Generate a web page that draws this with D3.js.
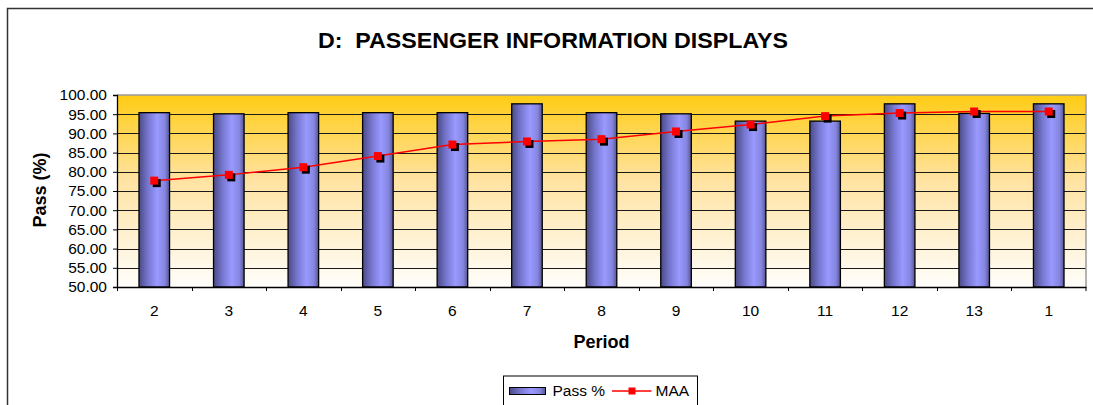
<!DOCTYPE html>
<html>
<head>
<meta charset="utf-8">
<script src="https://cdn.jsdelivr.net/npm/d3@7"></script>
<style>
  body { margin: 0; background: #fff; }
  text { font-family: "Liberation Sans", Arial, sans-serif; }
</style>
</head>
<body>
<svg width="1093" height="405"></svg>
<script>
var periods = ["2", "3", "4", "5", "6", "7", "8", "9", "10", "11", "12", "13", "1"];
var passPct = [95.4, 95.1, 95.4, 95.4, 95.4, 97.7, 95.4, 95.1, 93.2, 93.2, 97.7, 95.2, 97.7];
var maa = [77.7, 79.2, 81.2, 84.1, 87.1, 87.9, 88.5, 90.5, 92.3, 94.5, 95.3, 95.7, 95.7];
var yTicks = [50, 55, 60, 65, 70, 75, 80, 85, 90, 95, 100];

var svg = d3.select("svg"),
    margin = {top: 95, right: 7, bottom: 118, left: 117},
    width = +svg.attr("width") - margin.left - margin.right,
    height = +svg.attr("height") - margin.top - margin.bottom;

var defs = svg.append("defs");

var bg = defs.append("linearGradient").attr("id", "bg")
    .attr("x1", 0).attr("y1", 0).attr("x2", 0).attr("y2", 1);
bg.append("stop").attr("offset", "0%").attr("stop-color", "#ffcc14");
bg.append("stop").attr("offset", "45%").attr("stop-color", "#ffe3a3");
bg.append("stop").attr("offset", "100%").attr("stop-color", "#fffefb");

var barGrad = defs.append("linearGradient").attr("id", "barGrad")
    .attr("x1", 0).attr("y1", 0).attr("x2", 1).attr("y2", 0);
barGrad.append("stop").attr("offset", "0%").attr("stop-color", "#4a4a86");
barGrad.append("stop").attr("offset", "30%").attr("stop-color", "#7777d0");
barGrad.append("stop").attr("offset", "60%").attr("stop-color", "#9999ff");
barGrad.append("stop").attr("offset", "85%").attr("stop-color", "#8585e0");
barGrad.append("stop").attr("offset", "100%").attr("stop-color", "#55558f");

// outer chart frame (runs off the bottom and right of the picture)
svg.append("rect")
    .attr("x", 7.5).attr("y", 8.5)
    .attr("width", 1100).attr("height", 420)
    .attr("fill", "none").attr("stroke", "#333").attr("stroke-width", 1.5);

svg.append("text")
    .attr("x", 553).attr("y", 48)
    .attr("text-anchor", "middle")
    .attr("font-size", 22).attr("font-weight", "bold")
    .attr("textLength", 470).attr("lengthAdjust", "spacingAndGlyphs")
    .text("D:\u00a0 PASSENGER INFORMATION DISPLAYS");

var g = svg.append("g").attr("transform", "translate(" + margin.left + "," + margin.top + ")");

var x = d3.scaleBand()
    .domain(periods)
    .range([0, width])
    .paddingInner(0.59)
    .paddingOuter(0.295);

var xCat = d3.scaleBand().domain(periods).range([0, width]);

var y = d3.scaleLinear()
    .domain([50, 100])
    .range([height, 0]);

g.append("rect")
    .attr("width", width).attr("height", height)
    .attr("fill", "url(#bg)");

// gridlines
g.append("g")
  .selectAll("line")
  .data(yTicks.slice(1, -1))
  .enter().append("line")
    .attr("x1", 0).attr("x2", width)
    .attr("y1", function(d) { return Math.round(y(d)) + 0.5; })
    .attr("y2", function(d) { return Math.round(y(d)) + 0.5; })
    .attr("stroke", "#1a1a1a").attr("stroke-width", 1);

// plot border top/right
g.append("path")
    .attr("d", "M0," + (y(100)) + "H" + width + "V" + height)
    .attr("fill", "none").attr("stroke", "#9a9a9a").attr("stroke-width", 1.5);

// bars
g.append("g")
  .selectAll("rect")
  .data(passPct)
  .enter().append("rect")
    .attr("x", function(d, i) { return x(periods[i]); })
    .attr("y", function(d) { return y(d); })
    .attr("width", x.bandwidth())
    .attr("height", function(d) { return height - y(d); })
    .attr("fill", "url(#barGrad)")
    .attr("stroke", "#000").attr("stroke-width", 1.3);

// MAA line
var line = d3.line()
    .x(function(d, i) { return x(periods[i]) + x.bandwidth() / 2; })
    .y(function(d) { return y(d); });

g.append("path")
    .datum(maa)
    .attr("d", line)
    .attr("fill", "none").attr("stroke", "#ff0000").attr("stroke-width", 1.5);

var ms = 8;
var markers = g.append("g").selectAll("g")
  .data(maa)
  .enter().append("g")
    .attr("transform", function(d, i) {
      return "translate(" + (x(periods[i]) + x.bandwidth() / 2) + "," + y(d) + ")";
    });

markers.append("rect")
    .attr("x", -ms / 2 + 2.5).attr("y", -ms / 2 + 2.5)
    .attr("width", ms).attr("height", ms)
    .attr("fill", "#000");

markers.append("rect")
    .attr("x", -ms / 2).attr("y", -ms / 2)
    .attr("width", ms).attr("height", ms)
    .attr("fill", "#ff0000");

// y axis
var yAxis = g.append("g")
    .call(d3.axisLeft(y).tickValues(yTicks).tickSize(4).tickPadding(6)
      .tickFormat(d3.format(".2f")));
yAxis.select(".domain").attr("stroke", "#000").attr("stroke-width", 1.3);
yAxis.selectAll(".tick line").attr("stroke", "#000");
yAxis.selectAll("text").attr("font-size", 15.5).attr("fill", "#000")
    .attr("font-family", "Liberation Sans, Arial, sans-serif");

// x axis
var xAxis = g.append("g")
    .attr("transform", "translate(0," + height + ")")
    .call(d3.axisBottom(x).tickSize(0).tickPadding(17.5).tickSizeOuter(0));
xAxis.select(".domain").attr("stroke", "#000").attr("stroke-width", 1.3);
xAxis.selectAll("text").attr("font-size", 15.5).attr("fill", "#000")
    .attr("font-family", "Liberation Sans, Arial, sans-serif");

g.append("g")
  .selectAll("line")
  .data(periods.concat(["end"]))
  .enter().append("line")
    .attr("x1", function(d, i) { return i < periods.length ? Math.round(xCat(d)) + 0.5 : width; })
    .attr("x2", function(d, i) { return i < periods.length ? Math.round(xCat(d)) + 0.5 : width; })
    .attr("y1", height).attr("y2", height + 4)
    .attr("stroke", "#000");

// axis titles
svg.append("text")
    .attr("transform", "translate(46," + 190 + ") rotate(-90)")
    .attr("text-anchor", "middle")
    .attr("font-size", 18).attr("font-weight", "bold")
    .text("Pass (%)");

svg.append("text")
    .attr("x", margin.left + width / 2).attr("y", 348)
    .attr("text-anchor", "middle")
    .attr("font-size", 18).attr("font-weight", "bold")
    .text("Period");

// legend
var legend = svg.append("g").attr("transform", "translate(503.5,376)");
legend.append("rect")
    .attr("width", 194).attr("height", 40)
    .attr("fill", "#fff").attr("stroke", "#000").attr("stroke-width", 1);
legend.append("rect")
    .attr("x", 6).attr("y", 11.5).attr("width", 36).attr("height", 7)
    .attr("fill", "url(#barGrad)").attr("stroke", "#000").attr("stroke-width", 1);
legend.append("text")
    .attr("x", 49).attr("y", 19.5)
    .attr("font-size", 15.5).text("Pass %");
legend.append("line")
    .attr("x1", 108.5).attr("x2", 148).attr("y1", 15).attr("y2", 15)
    .attr("stroke", "#ff0000").attr("stroke-width", 1.5);
legend.append("rect")
    .attr("x", 125).attr("y", 11.5).attr("width", 7).attr("height", 7)
    .attr("fill", "#ff0000");
legend.append("text")
    .attr("x", 152).attr("y", 19.5)
    .attr("font-size", 15.5).text("MAA");
</script>
</body>
</html>
